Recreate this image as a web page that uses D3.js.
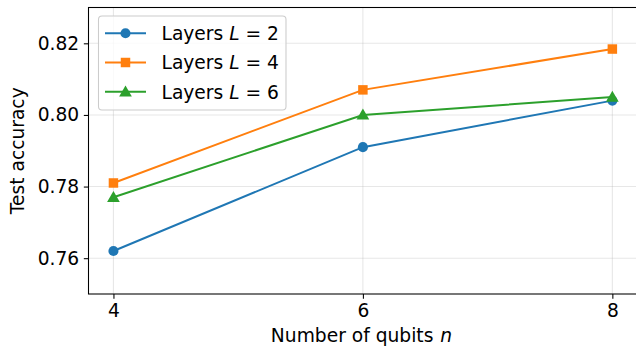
<!DOCTYPE html>
<html><head><meta charset="utf-8">
<script src="https://cdn.jsdelivr.net/npm/d3@7"></script>
<style>body{margin:0;background:#fff}svg{display:block}text{font-family:"DejaVu Sans",sans-serif}</style>
</head><body>
<script>
const qubits = [4, 6, 8];
const layersL2 = [0.762, 0.791, 0.804];
const layersL4 = [0.781, 0.807, 0.8184];
const layersL6 = [0.777, 0.800, 0.805];
const seriesNames = ["2", "4", "6"];
const xTicks = [4, 6, 8];
const yTicks = [0.76, 0.78, 0.80, 0.82];

const W = 636, H = 348;
const svg = d3.select("body").append("svg").attr("width", W).attr("height", H);
const x = d3.scaleLinear().domain([3.8, 8.2]).range([88.5, 637.3]);
const y = d3.scaleLinear().domain([0.75, 0.83]).range([294, 7.5]);
const fs = 18.67;

// grid
svg.append("g").selectAll("line").data(xTicks).join("line")
  .attr("x1", d => x(d)).attr("x2", d => x(d)).attr("y1", y(0.75)).attr("y2", y(0.83))
  .attr("stroke", "#b0b0b0").attr("stroke-opacity", 0.3).attr("stroke-width", 1.07);
svg.append("g").selectAll("line").data(yTicks).join("line")
  .attr("y1", d => y(d)).attr("y2", d => y(d)).attr("x1", x(3.8)).attr("x2", x(8.2))
  .attr("stroke", "#b0b0b0").attr("stroke-opacity", 0.3).attr("stroke-width", 1.07);

// axes
const xAxis = d3.axisBottom(x).tickValues(xTicks).tickFormat(d3.format("d")).tickSizeOuter(0).tickSize(4.67).tickPadding(4.67);
const yAxis = d3.axisLeft(y).tickValues(yTicks).tickFormat(d3.format(".2f")).tickSizeOuter(0).tickSize(4.67).tickPadding(4.67);
const gx = svg.append("g").attr("transform", `translate(0,${y(0.75)})`).call(xAxis);
const gy = svg.append("g").attr("transform", `translate(${x(3.8)},0)`).call(yAxis);
[gx, gy].forEach(g => {
  g.select(".domain").remove();
  g.selectAll(".tick line").attr("stroke", "#000").attr("stroke-width", 1.07);
  g.selectAll(".tick text").attr("font-size", fs).attr("fill", "#000").attr("font-family", "DejaVu Sans");
});
// spines
svg.append("rect").attr("x", x(3.8)).attr("y", y(0.83)).attr("width", x(8.2) - x(3.8)).attr("height", y(0.75) - y(0.83))
  .attr("fill", "none").attr("stroke", "#000").attr("stroke-width", 1.07);

// labels
const xl = svg.append("text").attr("x", 361.5).attr("y", 342).attr("text-anchor", "middle").attr("font-size", fs);
xl.append("tspan").text("Number of qubits ");
xl.append("tspan").attr("font-style", "italic").attr("dx", 1).text("n");
svg.append("text").attr("transform", `translate(24,${(y(0.75) + y(0.83)) / 2}) rotate(-90)`)
  .attr("text-anchor", "middle").attr("font-size", fs).text("Test accuracy");

const colors = ["#1f77b4", "#ff7f0e", "#2ca02c"];
const data = [layersL2, layersL4, layersL6];
const line = d3.line().x((d, i) => x(qubits[i])).y(d => y(d));
const symbols = [d3.symbolCircle, d3.symbolSquare, d3.symbolTriangle];
const symSizes = [80, 90, 70];

data.forEach((vals, k) => {
  svg.append("path").datum(vals).attr("d", line).attr("fill", "none").attr("stroke", colors[k]).attr("stroke-width", 2);
  svg.append("g").selectAll("path").data(vals).join("path")
    .attr("d", d3.symbol().type(symbols[k]).size(symSizes[k]))
    .attr("transform", (d, i) => `translate(${x(qubits[i])},${y(d) + (k === 2 ? 1 : 0)})`)
    .attr("fill", colors[k]);
});

// legend
const lg = svg.append("g");
lg.append("rect").attr("x", 98.5).attr("y", 16).attr("width", 187.5).attr("height", 94).attr("rx", 3.5)
  .attr("fill", "#fff").attr("fill-opacity", 0.8).attr("stroke", "#cccccc").attr("stroke-width", 1.07);
seriesNames.forEach((nm, k) => {
  const cy = 33.2 + k * 29.3;
  lg.append("line").attr("x1", 105).attr("x2", 146).attr("y1", cy).attr("y2", cy).attr("stroke", colors[k]).attr("stroke-width", 2);
  lg.append("path").attr("d", d3.symbol().type(symbols[k]).size(symSizes[k])())
    .attr("transform", `translate(125.5,${cy + (k === 2 ? 1 : 0)})`).attr("fill", colors[k]);
  const t = lg.append("text").attr("x", 161.5).attr("y", cy + 6.7).attr("font-size", fs);
  t.append("tspan").text("Layers ");
  t.append("tspan").attr("font-style", "italic").text("L");
  t.append("tspan").text(" = " + nm);
});
</script>
</body></html>
